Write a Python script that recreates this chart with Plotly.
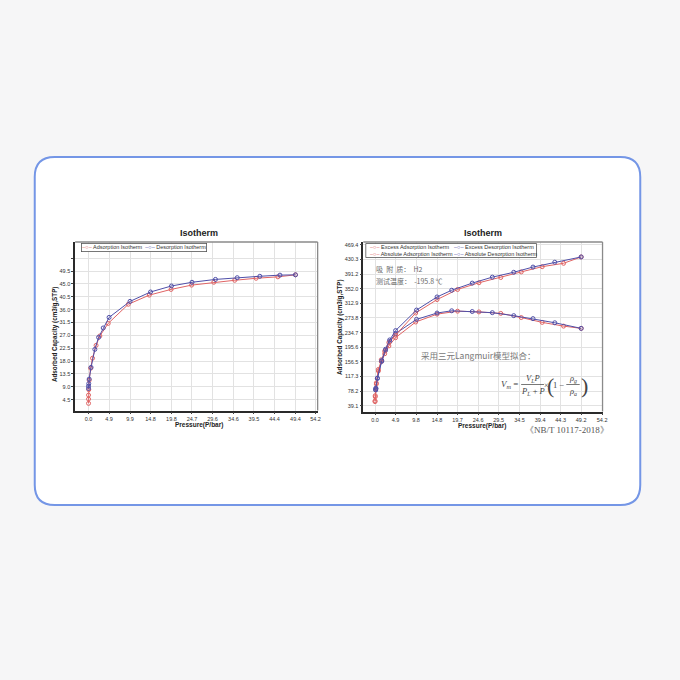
import plotly.graph_objects as go

# ---------------- data ----------------
# Left chart: Isotherm (adsorption / desorption)
left_ads_p = [0.0, 0.0, 0.0, 0.05, 0.15, 0.5, 0.95, 1.8, 2.7, 4.7, 9.5, 14.5, 19.7, 24.6, 29.9, 34.9, 40.0, 45.2, 49.4]
left_ads_v = [3.2, 4.7, 6.1, 8.0, 11.3, 15.5, 19.0, 23.5, 26.8, 31.2, 37.9, 41.1, 43.1, 44.6, 45.6, 46.3, 47.0, 47.5, 48.2]
left_des_p = [0.0, 0.0, 0.05, 0.15, 0.6, 1.5, 2.4, 3.5, 4.9, 9.9, 14.8, 19.8, 24.7, 30.3, 35.5, 40.9, 45.7, 49.4]
left_des_v = [8.4, 9.2, 10.1, 11.7, 15.8, 22.1, 26.3, 29.6, 33.3, 38.9, 42.2, 44.3, 45.6, 46.6, 47.2, 47.7, 48.1, 48.2]

left_xticks = [0.0, 4.9, 9.9, 14.8, 19.8, 24.7, 29.6, 34.6, 39.5, 44.4, 49.4, 54.2]
left_yticks = [4.5, 9.0, 13.5, 18.0, 22.5, 27.0, 31.5, 36.0, 40.5, 45.0, 49.5, 54.0]
left_yticklabels = ["4.5", "9.0", "13.5", "18.0", "22.5", "27.0", "31.5", "36.0", "40.5", "45.0", "49.5", " "]

# Right chart: excess / absolute isotherms
right_ads_p = [0.0, 0.05, 0.3, 0.8, 1.5, 2.3, 3.3, 4.9, 9.7, 14.8, 19.7, 24.8, 30.0, 34.9, 39.9, 45.0, 49.2]
right_ex_ads_v = [50, 63, 97, 132, 157, 178, 199, 221, 263, 284, 292, 290, 286, 275, 262, 252, 246]
right_abs_ads_v = [52, 66, 100, 136, 162, 185, 208, 228, 287, 323, 350, 368, 382, 397, 411, 420, 437]
right_des_p = [0.16, 0.2, 0.55, 1.6, 2.5, 3.5, 4.9, 9.9, 14.8, 18.3, 23.2, 28.0, 33.1, 37.7, 42.9, 49.2]
right_ex_des_v = [81, 85, 112, 158, 187, 211, 232, 270, 287, 293, 291, 288, 280, 272, 261, 246]
right_abs_des_v = [82, 86, 113, 160, 190, 215, 240, 295, 330, 348, 367, 383, 396, 410, 423, 437]

right_xticks = [0.0, 4.9, 9.8, 14.8, 19.7, 24.6, 29.5, 34.5, 39.4, 44.3, 49.2, 54.2]
right_yticks = [39.1, 78.2, 117.3, 156.5, 195.6, 234.7, 273.8, 312.9, 352.0, 391.2, 430.3, 469.4]

RED = "#e06464"
BLUE = "#4f4fa8"
FONT = "Liberation Sans, Arial, sans-serif"
CJK = "Noto Sans CJK SC"
SERIF = "Liberation Serif, DejaVu Serif, serif"


def X(px):
    return px / 680.0


def Y(py):
    return 1 - py / 680.0


def series(x, y, color, name, xa, ya):
    return go.Scatter(
        x=x, y=y, mode="lines+markers", name=name, xaxis=xa, yaxis=ya,
        line=dict(color=color, width=1),
        marker=dict(symbol="circle-open", size=4, color=color, line=dict(width=1, color=color)),
        showlegend=False,
    )


fig = go.Figure()
fig.add_trace(series(left_ads_p, left_ads_v, RED, "Adsorption Isotherm", "x", "y"))
fig.add_trace(series(left_des_p, left_des_v, BLUE, "Desorption Isotherm", "x", "y"))
fig.add_trace(series(right_ads_p, right_ex_ads_v, RED, "Excess Adsorption Isotherm", "x2", "y2"))
fig.add_trace(series(right_des_p, right_ex_des_v, BLUE, "Excess Desorption Isotherm", "x2", "y2"))
fig.add_trace(series(right_ads_p, right_abs_ads_v, RED, "Absolute Adsorption Isotherm", "x2", "y2"))
fig.add_trace(series(right_des_p, right_abs_des_v, BLUE, "Absolute Desorption Isotherm", "x2", "y2"))

axis_common = dict(
    showgrid=True, gridcolor="#e2e2e2", gridwidth=1, zeroline=False,
    showline=True, linecolor="#2a2a2a", linewidth=1.6,
    ticks="outside", ticklen=2, tickcolor="#444", tickwidth=1,
    tickfont=dict(size=5.5, color="#333", family=FONT),
)

fig.update_layout(
    width=680, height=680,
    margin=dict(l=0, r=0, t=0, b=0),
    paper_bgcolor="#f6f6f7",
    plot_bgcolor="white",
    showlegend=False,
    xaxis=dict(domain=[X(75.7), X(320)], range=[-3.2, 54.7], anchor="y",
               tickmode="array", tickvals=left_xticks, ticktext=[f"{v:.1f}" for v in left_xticks], **axis_common),
    yaxis=dict(domain=[Y(410.5), Y(242)], range=[0.7, 59.7], anchor="x",
               tickmode="array", tickvals=left_yticks, ticktext=left_yticklabels, **axis_common),
    xaxis2=dict(domain=[X(366), X(607)], range=[-2.8, 54.3], anchor="y2",
                tickmode="array", tickvals=right_xticks, ticktext=[f"{v:.1f}" for v in right_xticks], **axis_common),
    yaxis2=dict(domain=[Y(411.5), Y(242)], range=[23.6, 477], anchor="x2",
                tickmode="array", tickvals=right_yticks, ticktext=[f"{v:.1f}" for v in right_yticks], **axis_common),
)

shapes = []
# rounded card
x0, y0, x1, y1, r = 35, 157, 645, 505, 20
path = (f"M {X(x0 + r)} {Y(y0)} L {X(x1 - r)} {Y(y0)} Q {X(x1)} {Y(y0)} {X(x1)} {Y(y0 + r)} "
        f"L {X(x1)} {Y(y1 - r)} Q {X(x1)} {Y(y1)} {X(x1 - r)} {Y(y1)} "
        f"L {X(x0 + r)} {Y(y1)} Q {X(x0)} {Y(y1)} {X(x0)} {Y(y1 - r)} "
        f"L {X(x0)} {Y(y0 + r)} Q {X(x0)} {Y(y0)} {X(x0 + r)} {Y(y0)} Z")
shapes.append(dict(type="path", path=path, xref="paper", yref="paper",
                   fillcolor="white", line=dict(color="#7496e6", width=2), layer="below"))
# top/right frame of the plot areas
for xr, yr in (("x domain", "y domain"), ("x2 domain", "y2 domain")):
    shapes.append(dict(type="line", xref=xr, yref=yr, x0=0, x1=1, y0=1, y1=1,
                       line=dict(color="#8a8a8a", width=1.3)))
    shapes.append(dict(type="line", xref=xr, yref=yr, x0=1, x1=1, y0=0, y1=1,
                       line=dict(color="#8a8a8a", width=1.3)))
# right legend box
shapes.append(dict(type="rect", xref="paper", yref="paper", x0=X(368.5), x1=X(540.5), y0=Y(257.5), y1=Y(243.5),
                   fillcolor="white", line=dict(color="#555", width=0.8)))
# fraction bars of the formula
shapes.append(dict(type="line", xref="paper", yref="paper", x0=X(525), x1=X(548), y0=Y(384.5), y1=Y(384.5),
                   line=dict(color="#555", width=0.8)))
shapes.append(dict(type="line", xref="paper", yref="paper", x0=X(570.5), x1=X(584), y0=Y(384.5), y1=Y(384.5),
                   line=dict(color="#555", width=0.8)))

ann = []


def text(px, py, s, size, color="#222", family=FONT, xanchor="center", yanchor="middle", angle=0, **kw):
    ann.append(dict(x=X(px), y=Y(py), xref="paper", yref="paper", text=s, showarrow=False,
                    xanchor=xanchor, yanchor=yanchor, textangle=angle,
                    font=dict(size=size, color=color, family=family), **kw))


# titles
text(200, 233, "<b>Isotherm</b>", 9)
text(487, 233, "<b>Isotherm</b>", 9)
# axis titles
text(200, 425, "<b>Pressure(P/bar)</b>", 6.5)
text(486, 425.5, "<b>Pressure(P/bar)</b>", 6.5)
text(55.5, 334, "<b>Adsorbed Capacity (cm3/g,STP)</b>", 6.3, angle=-90)
text(342.5, 327, "<b>Adsorbed Capacity (cm3/g,STP)</b>", 6.3, angle=-90)

# left legend
sym_r = f'<span style="color:{RED}">–○–</span>'
sym_b = f'<span style="color:{BLUE}">–○–</span>'
text(82, 247.7, f"{sym_r} Adsorption Isotherm  {sym_b} Desorption Isotherm", 5.5, color="#333",
     xanchor="left", bgcolor="white", bordercolor="#555", borderwidth=0.8, borderpad=0.5)
# right legend items
text(371, 247, f"{sym_r} Excess Adsorption Isotherm", 5.5, color="#333", xanchor="left")
text(455, 247, f"{sym_b} Excess Desorption Isotherm", 5.5, color="#333", xanchor="left")
text(371, 254, f"{sym_r} Absolute Adsorption Isotherm", 5.5, color="#333", xanchor="left")
text(455, 254, f"{sym_b} Absolute Desorption Isotherm", 5.5, color="#333", xanchor="left")

# notes inside right chart
text(377, 269, "吸  附  质：  H2", 7, color="#6a6a6a", family=CJK, xanchor="left")
text(377, 281, "测试温度：  -195.8 ℃", 7, color="#6a6a6a", family=CJK, xanchor="left")
text(422, 355, "采用三元Langmuir模型拟合：", 8.5, color="#777", family=CJK, xanchor="left")

# formula
text(513, 384.5, "<i>V<sub>m</sub></i> =", 9, color="#444", family=SERIF)
text(536.5, 378, "<i>V<sub>L</sub>P</i>", 8.5, color="#444", family=SERIF)
text(536.5, 391.5, "<i>P<sub>L</sub></i> + <i>P</i>", 8.5, color="#444", family=SERIF)
text(550.5, 385, "×", 8, color="#444", family=SERIF)
text(555, 385.5, "(", 22, color="#444", family=SERIF)
text(563, 385, "1 −", 8.5, color="#444", family=SERIF)
text(577.5, 378, "<i>ρ<sub>g</sub></i>", 8.5, color="#444", family=SERIF)
text(577.5, 391.5, "<i>ρ<sub>a</sub></i>", 8.5, color="#444", family=SERIF)
text(588.5, 385.5, ")", 22, color="#444", family=SERIF)

# citation
text(571, 430, "《NB/T 10117-2018》", 9, color="#555", family=SERIF)

fig.update_layout(shapes=shapes, annotations=ann)
fig.write_html(
    "out.html",
    config={"displayModeBar": False},
    post_script="document.body.style.margin='0';document.body.style.background='#f6f6f7';",
)
